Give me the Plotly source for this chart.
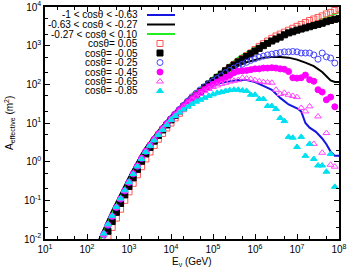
import plotly.graph_objects as go

# ---------------- data (log10 values) ----------------
log_e_grid = [2.3, 2.4, 2.5, 2.6, 2.7, 2.8, 2.9, 3.0, 3.1, 3.2, 3.3, 3.4, 3.5, 3.6, 3.7, 3.8, 3.9,
              4.0, 4.1, 4.2, 4.3, 4.4, 4.5, 4.6, 4.7, 4.8, 4.9, 5.0, 5.1, 5.2, 5.3, 5.4, 5.5, 5.6,
              5.7, 5.8, 5.9, 6.0, 6.1, 6.2, 6.3, 6.4, 6.5, 6.6, 6.7, 6.8, 6.9, 7.0, 7.1, 7.2, 7.3,
              7.4, 7.5, 7.6, 7.7, 7.8, 7.9, 8.0]

# lines (energy bins in log10 GeV, effective area in log10 m^2)
line_blue_loge = [2.28, 2.4, 2.5, 2.6, 2.7, 2.8, 2.9, 3.0, 3.2, 3.4, 3.6, 3.8, 4.0, 4.2, 4.4, 4.6, 4.8,
                  5.0, 5.2, 5.4, 5.6, 5.8, 6.0, 6.2, 6.4, 6.6, 6.8, 7.0, 7.1, 7.2, 7.3, 7.45, 7.6,
                  7.7, 7.8, 7.9, 8.0]
line_blue_loga = [-2.05, -1.74, -1.51, -1.28, -1.05, -0.84, -0.62, -0.41, 0.0, 0.36, 0.65, 0.92, 1.17,
                  1.4, 1.58, 1.74, 1.87, 1.97, 2.04, 2.08, 2.11, 2.11, 2.06, 1.96, 1.86, 1.65, 1.48,
                  1.38, 1.3, 1.0, 0.88, 0.77, 0.6, 0.45, 0.26, 0.15, 0.15]

line_black_loge = [2.28, 2.4, 2.5, 2.6, 2.7, 2.8, 2.9, 3.0, 3.1, 3.2, 3.3, 3.4, 3.5, 3.6, 3.7, 3.8, 3.9,
                   4.0, 4.2, 4.4, 4.6, 4.8, 5.0, 5.2, 5.4, 5.6, 5.8, 6.0, 6.2, 6.4, 6.6, 6.8, 7.0,
                   7.2, 7.4, 7.6, 7.7, 7.8, 7.9, 8.0]
line_black_loga = [-2.05, -1.73, -1.5, -1.27, -1.04, -0.83, -0.62, -0.4, -0.19, 0.01, 0.2, 0.37,
                   0.52, 0.66, 0.8, 0.93, 1.06, 1.18, 1.41, 1.62, 1.8, 1.96, 2.1, 2.24, 2.37, 2.48,
                   2.57, 2.64, 2.69, 2.71, 2.71, 2.69, 2.64, 2.56, 2.47, 2.32, 2.2, 2.1, 2.06, 2.06]

line_green_loge = [2.3, 2.4, 2.5, 2.6, 2.7, 2.8, 2.9, 3.0, 3.1, 3.2, 3.3, 3.4, 3.5, 3.6, 3.7, 3.8, 3.9,
                   4.0, 4.2, 4.4, 4.6, 4.8, 5.0, 5.2, 5.4, 5.6, 5.8, 6.0, 6.2, 6.4, 6.6, 6.8, 7.0,
                   7.2, 7.4, 7.6, 7.8, 8.0]
line_green_loga = [-2.07, -1.8, -1.57, -1.34, -1.11, -0.9, -0.69, -0.47, -0.26, -0.05, 0.14, 0.32,
                   0.48, 0.63, 0.77, 0.9, 1.03, 1.15, 1.39, 1.6, 1.8, 1.99, 2.18, 2.35, 2.52, 2.69,
                   2.83, 2.95, 3.06, 3.16, 3.25, 3.33, 3.43, 3.52, 3.61, 3.7, 3.78, 3.86]

# points: start index into log_e_grid and log10(A) values
red_sq_start = 2   # 10^2.5
red_sq_loga = [-1.93, -1.7, -1.46, -1.23, -1.0, -0.78, -0.56, -0.34, -0.13, 0.07, 0.25, 0.42, 0.58,
               0.73, 0.87, 1.0, 1.13, 1.25, 1.37, 1.48, 1.59, 1.69, 1.79, 1.89, 1.99, 2.08, 2.17,
               2.26, 2.35, 2.43, 2.51, 2.59, 2.67, 2.74, 2.81, 2.9, 2.98, 3.05, 3.12, 3.19, 3.25,
               3.3, 3.35, 3.4, 3.45, 3.5, 3.55, 3.6, 3.65, 3.69, 3.73, 3.77, 3.82, 3.86, 3.91, 3.95]

black_sq_start = 2
black_sq_loga = [-1.8, -1.55, -1.31, -1.08, -0.86, -0.64, -0.42, -0.2, 0.01, 0.2, 0.37, 0.53, 0.68,
                 0.82, 0.95, 1.08, 1.2, 1.31, 1.42, 1.52, 1.62, 1.72, 1.82, 1.92, 2.01, 2.09, 2.18,
                 2.26, 2.35, 2.43, 2.5, 2.58, 2.65, 2.72, 2.79, 2.86, 2.93, 3.0, 3.06, 3.12, 3.17,
                 3.22, 3.28, 3.33, 3.36, 3.4, 3.43, 3.46, 3.49, 3.52, 3.55, 3.58, 3.62, 3.65, 3.68, 3.7]

blue_circ_start = 1  # 10^2.4
blue_circ_loga = [-1.9, -1.65, -1.42, -1.19, -0.97, -0.76, -0.54, -0.32, -0.12, 0.08, 0.26, 0.43,
                  0.58, 0.72, 0.86, 0.99, 1.11, 1.23, 1.35, 1.46, 1.57, 1.68, 1.77, 1.86, 1.94, 2.01,
                  2.08, 2.15, 2.22, 2.3, 2.36, 2.42, 2.47, 2.52, 2.57, 2.62, 2.66, 2.7, 2.73, 2.76,
                  2.78, 2.8, 2.82, 2.84, 2.84, 2.85, 2.84, 2.81, 2.81, 2.81, 2.76, 2.65, 2.81, 2.71,
                  2.68, 2.55]

magenta_start = 1
magenta_loga = [-1.87, -1.63, -1.41, -1.18, -0.96, -0.75, -0.53, -0.31, -0.11, 0.09, 0.27, 0.43,
                0.58, 0.72, 0.85, 0.98, 1.1, 1.22, 1.33, 1.44, 1.54, 1.63, 1.72, 1.8, 1.87, 1.94,
                2.0, 2.06, 2.12, 2.18, 2.23, 2.3, 2.34, 2.35, 2.36, 2.38, 2.4, 2.4, 2.42, 2.42, 2.43,
                2.42, 2.4, 2.39, 2.33, 2.17, 2.16, 2.17, 2.24, 2.12, 2.08, 1.86, 1.8, 1.6, 1.67, 1.42]

pink_tri_start = 1
pink_tri_loga = [-1.89, -1.64, -1.42, -1.19, -0.97, -0.76, -0.54, -0.32, -0.12, 0.08, 0.26, 0.42,
                 0.57, 0.71, 0.84, 0.97, 1.09, 1.2, 1.31, 1.41, 1.51, 1.6, 1.68, 1.75, 1.82, 1.88,
                 1.93, 1.97, 2.01, 2.04, 2.07, 2.09, 2.11, 2.17, 2.15, 2.14, 2.11, 2.08, 2.06, 2.05,
                 2.04, 1.86, 1.75, 1.78, 1.73, 1.7, 1.67, 1.39, 1.3, 1.43, 0.46, 1.17, 0.23, 0.74,
                 -0.08, -0.13]

cyan_tri_start = 1
cyan_tri_loga = [-1.86, -1.62, -1.4, -1.17, -0.95, -0.74, -0.53, -0.32, -0.12, 0.07, 0.25, 0.41,
                 0.55, 0.69, 0.82, 0.95, 1.08, 1.18, 1.27, 1.35, 1.42, 1.49, 1.55, 1.6, 1.65, 1.7,
                 1.74, 1.78, 1.8, 1.83, 1.85, 1.86, 1.86, 1.84, 1.83, 1.73, 1.73, 1.62, 1.62, 1.44,
                 1.44, 1.36, 1.13, 1.05, 0.64, 0.62, 0.38, 0.64, 0.15, 0.46, 0.07, -0.1, -0.1, -0.26,
                 0.2, -0.65]

x_tickvals = [1e1, 1e2, 1e3, 1e4, 1e5, 1e6, 1e7, 1e8]
x_ticktext = ["10<sup>1</sup>", "10<sup>2</sup>", "10<sup>3</sup>", "10<sup>4</sup>",
              "10<sup>5</sup>", "10<sup>6</sup>", "10<sup>7</sup>", "10<sup>8</sup>"]
y_tickvals = [1e-2, 1e-1, 1e0, 1e1, 1e2, 1e3, 1e4]
y_ticktext = ["10<sup>-2</sup>", "10<sup>-1</sup>", "10<sup>0</sup>", "10<sup>1</sup>",
              "10<sup>2</sup>", "10<sup>3</sup>", "10<sup>4</sup>"]

line_labels = ["-1 < cos\u03b8 < -0.63", "-0.63 < cos\u03b8 < -0.27", "-0.27 < cos\u03b8 < 0.10"]
point_labels = ["cos\u03b8= 0.05", "cos\u03b8= -0.05", "cos\u03b8= -0.25", "cos\u03b8= -0.45",
                "cos\u03b8= -0.65", "cos\u03b8= -0.85"]

# ---------------- styles ----------------
line_colors = ["#1515e0", "#000000", "#22ee22"]
point_styles = [
    dict(symbol="square-open", color="#ff5555", size=6),
    dict(symbol="square", color="#000000", size=6),
    dict(symbol="circle-open", color="#4444ff", size=6),
    dict(symbol="circle", color="#ff00ff", size=6),
    dict(symbol="triangle-up-open", color="#ff44ff", size=6),
    dict(symbol="triangle-up", color="#00e0f0", size=6),
]

FONT = "Liberation Sans, Arial, sans-serif"

def pw(v):
    return [10 ** a for a in v]

fig = go.Figure()

lines = [(line_blue_loge, line_blue_loga), (line_black_loge, line_black_loga),
         (line_green_loge, line_green_loga)]
for (le, la), col, name in zip(lines, line_colors, line_labels):
    fig.add_trace(go.Scatter(x=pw(le), y=pw(la), mode="lines", name=name,
                             line=dict(color=col, width=2), showlegend=False))

points = [(red_sq_start, red_sq_loga), (black_sq_start, black_sq_loga),
          (blue_circ_start, blue_circ_loga), (magenta_start, magenta_loga),
          (pink_tri_start, pink_tri_loga), (cyan_tri_start, cyan_tri_loga)]
for (st, la), sty, name in zip(points, point_styles, point_labels):
    le = log_e_grid[st:st + len(la)]
    fig.add_trace(go.Scatter(
        x=pw(le), y=pw(la), mode="markers", name=name, showlegend=False,
        marker=dict(symbol=sty["symbol"], size=sty["size"], color=sty["color"],
                    line=dict(color=sty["color"], width=1))))

# ---------------- manual legend (text left, sample right) ----------------
L, R, T, B = 45, 15, 7, 37
W, H = 354, 276
pw_w = W - L - R
ph_h = H - T - B

def px_x(p):
    return (p - L) / pw_w

def px_y(p):
    return (H - B - p) / ph_h

row_y = [15, 24.5, 34, 43.5, 53, 62.5, 72, 81.5, 91]
labels = line_labels + point_labels
annots = []
for yy, lab in zip(row_y, labels):
    annots.append(dict(x=px_x(140), y=px_y(yy), xref="paper", yref="paper", text=lab,
                       showarrow=False, xanchor="right", yanchor="middle", height=9,
                       font=dict(family=FONT, size=10, color="black")))
shapes = []
for yy, col in zip(row_y[:3], line_colors):
    shapes.append(dict(type="line", xref="paper", yref="paper", x0=px_x(147), x1=px_x(175),
                       y0=px_y(yy), y1=px_y(yy), line=dict(color=col, width=2)))
for yy, sty in zip(row_y[3:], point_styles):
    fig.add_trace(go.Scatter(
        x=[px_x(160)], y=[px_y(yy)], xaxis="x2", yaxis="y2", mode="markers", showlegend=False,
        marker=dict(symbol=sty["symbol"], size=sty["size"], color=sty["color"],
                    line=dict(color=sty["color"], width=1))))

# axis titles
annots.append(dict(x=0.5, y=px_y(262), xref="paper", yref="paper",
                   text="E<sub>\u03bd</sub> (GeV)", showarrow=False, xanchor="center",
                   yanchor="middle", font=dict(family=FONT, size=10, color="black")))
annots.append(dict(x=px_x(9), y=px_y(123), xref="paper", yref="paper",
                   text="A<sub>effective</sub> (m<sup>2</sup>)", showarrow=False, textangle=-90,
                   xanchor="center", yanchor="middle", font=dict(family=FONT, size=10, color="black")))

axis_common = dict(showgrid=False, zeroline=False, showline=True, linecolor="black", linewidth=1.5,
                   mirror="allticks", ticks="inside", ticklen=5, tickcolor="black", tickwidth=1,
                   automargin=False,
                   tickfont=dict(family=FONT, size=10, color="black"),
                   minor=dict(ticks="inside", ticklen=3, tickcolor="black", tickwidth=1,
                              showgrid=False))

fig.update_layout(
    width=W, height=H, margin=dict(l=L, r=R, t=T, b=B, pad=0, autoexpand=False),
    paper_bgcolor="white", plot_bgcolor="white", showlegend=False,
    font=dict(family=FONT, size=10, color="black"),
    xaxis=dict(type="log", range=[1, 8], tickvals=x_tickvals, ticktext=x_ticktext, **axis_common),
    yaxis=dict(type="log", range=[-2, 4], tickvals=y_tickvals, ticktext=y_ticktext, **axis_common),
    xaxis2=dict(overlaying="x", type="linear", range=[0, 1], autorange=False, visible=False,
                fixedrange=True, automargin=False),
    yaxis2=dict(overlaying="y", type="linear", range=[0, 1], autorange=False, visible=False,
                fixedrange=True, automargin=False),
    annotations=annots, shapes=shapes,
)

fig.write_html("out.html", config={"displayModeBar": False},
               post_script="document.body.style.margin='0';document.body.style.padding='0';")
